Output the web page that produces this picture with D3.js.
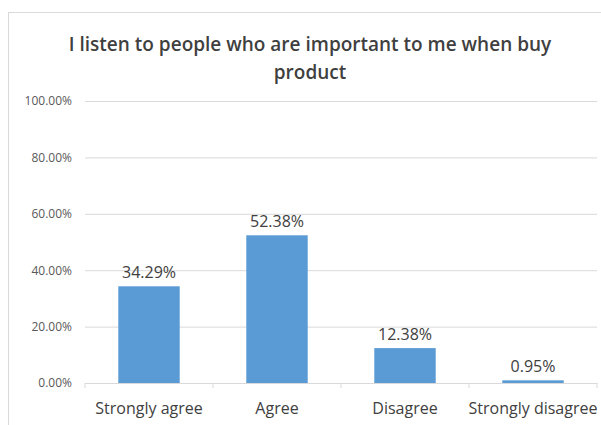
<!DOCTYPE html>
<html>
<head>
<meta charset="utf-8">
<script src="https://cdn.jsdelivr.net/npm/d3@7"></script>
<style>
  body { margin: 0; background: #fff; }
  svg { display: block; font-family: "Open Sans", "Liberation Sans", sans-serif; }
</style>
</head>
<body>
<svg width="601" height="425"></svg>
<script>
// chart data
const categories = ['Strongly agree', 'Agree', 'Disagree', 'Strongly disagree'];
const values = [34.29, 52.38, 12.38, 0.95];
const yTicks = [0, 20, 40, 60, 80, 100];
const titleLines = ['I listen to people who are important to me when buy', 'product'];

var svg = d3.select('svg');

// outer chart frame
svg.append('rect')
  .attr('x', 8.5).attr('y', 12.5)
  .attr('width', 600).attr('height', 420)
  .attr('fill', '#fff')
  .attr('stroke', '#d9d9d9');

var margin = { left: 85, right: 597, top: 101, bottom: 383 };

var x = d3.scaleBand()
  .domain(categories)
  .range([margin.left, margin.right])
  .paddingInner(0.52)
  .paddingOuter(0.26);

var y = d3.scaleLinear().domain([0, 100]).range([margin.bottom, margin.top]);

// title
svg.append('g')
  .selectAll('text')
  .data(titleLines)
  .enter()
  .append('text')
  .attr('x', 310)
  .attr('y', function (d, i) { return 51 + i * 28; })
  .attr('text-anchor', 'middle')
  .attr('font-size', 19)
  .attr('font-weight', 600)
  .attr('fill', '#3f3f3f')
  .text(function (d) { return d; });

// gridlines + y labels
var yAxis = svg.append('g')
  .attr('transform', 'translate(' + margin.left + ',0)')
  .call(d3.axisLeft(y)
    .tickValues(yTicks)
    .tickSize(-(margin.right - margin.left))
    .tickPadding(13)
    .tickFormat(function (d) { return d.toFixed(2) + '%'; }));
yAxis.select('.domain').remove();
yAxis.selectAll('line').attr('stroke', '#d9d9d9');
yAxis.selectAll('text')
  .attr('fill', '#595959')
  .attr('font-size', 12)
  .attr('font-family', '"Open Sans", sans-serif');

// bars
svg.append('g')
  .selectAll('rect')
  .data(values)
  .enter()
  .append('rect')
  .attr('x', function (d, i) { return x(categories[i]); })
  .attr('y', function (d) { return y(d); })
  .attr('width', x.bandwidth())
  .attr('height', function (d) { return y(0) - y(d); })
  .attr('fill', '#5b9bd5');

// value labels
svg.append('g')
  .selectAll('text')
  .data(values)
  .enter()
  .append('text')
  .attr('x', function (d, i) { return x(categories[i]) + x.bandwidth() / 2; })
  .attr('y', function (d) { return y(d) - 8; })
  .attr('text-anchor', 'middle')
  .attr('font-size', 16)
  .attr('fill', '#404040')
  .text(function (d) { return d.toFixed(2) + '%'; });

// x axis
var xAxis = svg.append('g')
  .attr('transform', 'translate(0,' + margin.bottom + ')')
  .call(d3.axisBottom(x).tickSize(0).tickPadding(20));
xAxis.select('.domain').attr('stroke', '#d9d9d9');
xAxis.selectAll('text')
  .attr('fill', '#404040')
  .attr('font-size', 16)
  .attr('font-family', '"Open Sans", sans-serif');

// category separators
svg.append('g')
  .selectAll('line')
  .data(d3.range(categories.length + 1))
  .enter()
  .append('line')
  .attr('x1', function (d) { return margin.left + d * (margin.right - margin.left) / categories.length; })
  .attr('x2', function (d) { return margin.left + d * (margin.right - margin.left) / categories.length; })
  .attr('y1', margin.bottom)
  .attr('y2', margin.bottom + 5)
  .attr('stroke', '#d9d9d9');
</script>
</body>
</html>
